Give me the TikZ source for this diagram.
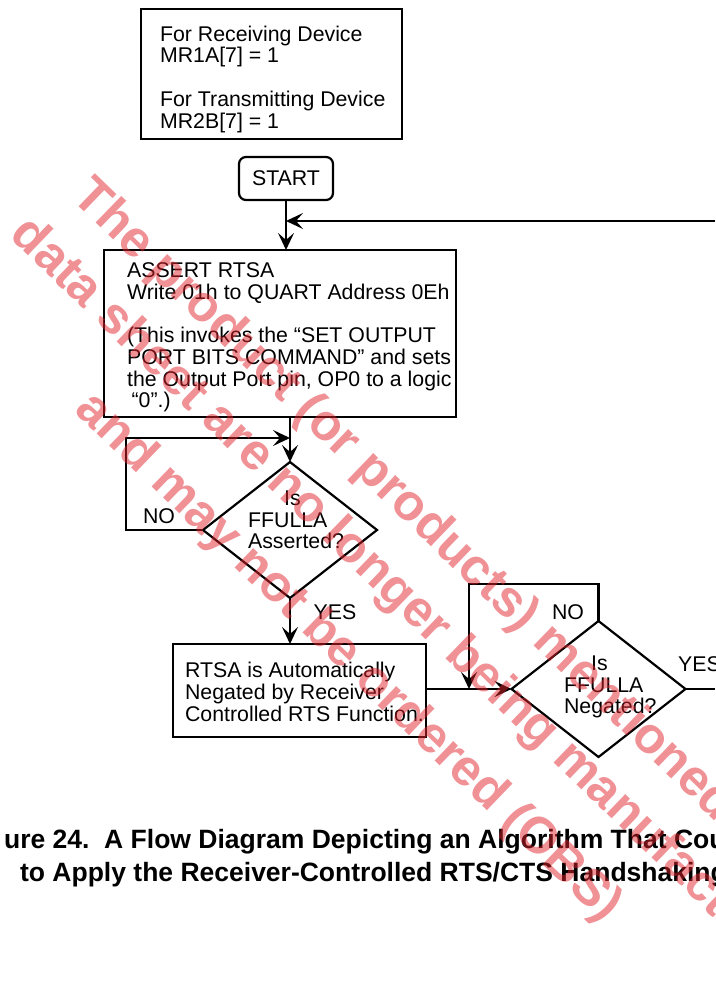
\documentclass[tikz,border=0pt]{standalone}
\usepackage{fontspec}
\setmainfont{Liberation Sans}
\usetikzlibrary{arrows.meta,shapes.geometric}
\definecolor{wm}{RGB}{225,35,45}
\begin{document}
\begin{tikzpicture}[x=1pt,y=-1pt, line width=2.2pt,
  lab/.style={font=\fontsize{21.3}{21.7}\selectfont, inner sep=0pt},
  txt/.style={lab, align=left, anchor=north west},
  boxy/.style={draw, inner sep=0pt, outer sep=0pt, line width=2.2pt},
  dia/.style={draw, diamond, inner sep=0pt, outer sep=0pt, minimum width=174pt, minimum height=136pt},
  arr/.style={-{Stealth[length=17pt,width=16pt,inset=7pt]}},
  wmk/.style={font=\fontsize{51}{51}\selectfont\bfseries, text=wm, text opacity=0.5, rotate=-44, anchor=base west, inner sep=0pt},
  captxt/.style={font=\fontsize{26.5}{33}\selectfont\bfseries, anchor=base west, inner sep=0pt}]
\useasboundingbox (0,0) rectangle (715,998);
\clip (0,0) rectangle (715,998);

% boxes and decisions
\node[boxy, minimum width=261pt, minimum height=130pt] (cfg) at (271.5,74) {};
\node[txt] (cfgt) at (159,24.7) {For Receiving Device\\MR1A[7] = 1\\[21.7pt]For Transmitting Device\\MR2B[7] = 1};
\node[boxy, lab, rounded corners=7pt, minimum width=94pt, minimum height=43pt] (start) at (286,178.5) {START};
\node[boxy, minimum width=352pt, minimum height=167pt] (assert) at (280,333.5) {};
\node[txt] (assertt) at (126,261.7) {ASSERT RTSA\\Write 01h to QUART Address 0Eh\\[21.7pt](This invokes the “SET OUTPUT\\PORT BITS COMMAND” and sets\\the Output Port pin, OP0 to a logic\\\hspace*{4.5pt}“0”.)};
\node[dia] (d1) at (290,530) {};
\node[txt] (d1t) at (247,489.7) {\hspace*{36pt}Is\\FFULLA\\Asserted?};
\node[boxy, minimum width=253pt, minimum height=93pt] (rtsa) at (299.5,690.5) {};
\node[txt] (rtsat) at (184,661.4) {RTSA is Automatically\\Negated by Receiver\\Controlled RTS Function.};
\node[dia] (d2) at (598.5,689) {};
\node[txt] (d2t) at (563,654.7) {\hspace*{27pt}Is\\FFULLA\\Negated?};

% labels
\node[lab] (no1) at (159,516.5) {NO};
\node[lab] (yes1) at (335,612.5) {YES};
\node[lab] (no2) at (568,612) {NO};
\node[lab, anchor=west] (yes2) at (677,664.5) {YES};

% connectors
\coordinate (fbR) at (715,221);
\coordinate (l1a) at (126,530);
\coordinate (l1b) at (126,438);
\coordinate (l2a) at (598.5,584);
\coordinate (l2b) at (469,584);
\coordinate (outR) at (715,689);
\draw[arr] (start.south) -- (start.south |- assert.north);
\draw[arr] (fbR) -- (start.south |- fbR);
\draw[arr] (assert.south -| d1.north) -- (d1.north);
\draw[arr] (d1.west) -- (l1a) -- (l1b) -- (d1.north |- l1b);
\draw[arr] (d1.south) -- (d1.south |- rtsa.north);
\draw[arr] (rtsa.east |- d2.west) -- (d2.west);
\draw[arr] (d2.north) -- (l2a) -- (l2b) -- (l2b |- d2.west);
\draw (d2.east) -- (outR);

% caption
\node[captxt] (cap1) at (3,848) {ure 24.\ \ A Flow Diagram Depicting an Algorithm That Cou};
\node[captxt] (cap2) at (19,881) {to Apply the Receiver-Controlled RTS/CTS Handshaking};

% watermark
\node[wmk] (wm1) at (70,198) {The product (or products) mentioned};
\node[wmk] (wm2) at (8,236) {data sheet are no longer being manufactured};
\node[wmk] (wm3) at (73,411) {and may not be ordered (OBS)};
\end{tikzpicture}
\end{document}
